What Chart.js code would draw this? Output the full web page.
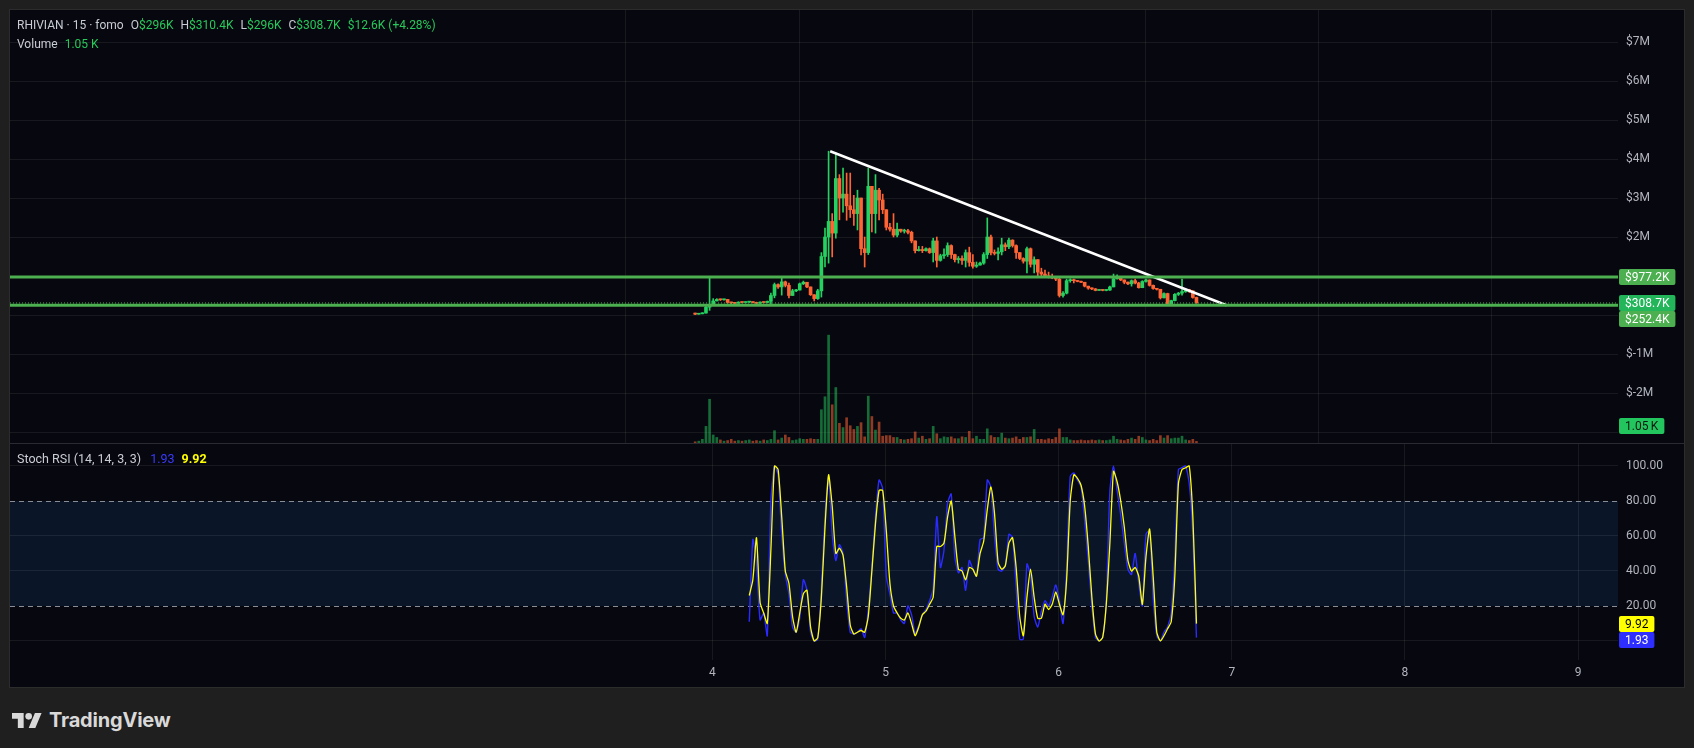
<!DOCTYPE html>
<html>
<head>
<meta charset="utf-8">
<script src="https://cdn.jsdelivr.net/npm/chart.js@4.4.0/dist/chart.umd.min.js"></script>
<style>
  html, body { margin:0; padding:0; width:1694px; height:748px; overflow:hidden; background:#1f1f1f;
               font-family: Roboto, "Noto Sans", sans-serif; }
  #panel { position:absolute; left:9px; top:9px; width:1676px; height:679px; box-sizing:border-box;
           background:#07070f; border:1px solid #2c2c2c; }
  canvas { position:absolute; left:10px; }
  #priceChart { top:10px; }
  #stochChart { top:444px; }
  #sep { position:absolute; left:10px; top:443px; width:1674px; height:1px; background:#2a2a33; }
  .legend { position:absolute; left:17px; font-size:12px; color:#c9ccd4; white-space:nowrap; line-height:16px; }
  .legend span { margin-left:7px; }
  .legend span.v { margin-left:0; }
  .g { color:#26c95a; }
  #brand { position:absolute; left:12px; top:708px; display:flex; align-items:center; color:#d9d9d9; }
  #brand span { font: 700 20px Inter, Roboto, sans-serif; margin-left:7px; letter-spacing:-0.2px; }
</style>
</head>
<body>
<div id="panel"></div>
<canvas id="priceChart" width="1674" height="433"></canvas>
<div id="sep"></div>
<canvas id="stochChart" width="1674" height="243"></canvas>

<div class="legend" style="top:17px">RHIVIAN · 15 · fomo<span>O<span class="g v">$296K</span></span><span>H<span class="g v">$310.4K</span></span><span>L<span class="g v">$296K</span></span><span>C<span class="g v">$308.7K</span></span><span class="g">$12.6K (+4.28%)</span></div>
<div class="legend" style="top:36px">Volume<span class="g">1.05 K</span></div>
<div class="legend" style="top:451px;font-size:12.5px">Stoch RSI (14, 14, 3, 3)<span style="color:#3a3aff;margin-left:9px">1.93</span><span style="color:#ffff00;font-weight:bold">9.92</span></div>

<div id="brand">
  <svg width="30" height="15" viewBox="0 4 36 18"><path fill="#d9d9d9" d="M14 22H7V11H0V4h14v18zM28 22h-8l7.5-18h8L28 22z"/><circle fill="#d9d9d9" cx="20" cy="8" r="4"/></svg>
  <span>TradingView</span>
</div>

<script>
// ---- data (prices in $M, 30-minute bars) ----
const dayTicks = [4, 5, 6, 7, 8, 9];
const priceTicks = [-3, -2, -1, 0, 1, 2, 3, 4, 5, 6, 7];
const stochTicks = [0, 20, 40, 60, 80, 100];
const barStart = 3.90;      // day of the first bar
const barsPerDay = 48;
const openFirst = 0.05;

const closes = [0.02,0.03,0.05,0.20,0.24,0.36,0.40,0.39,0.40,0.32,
  0.31,0.30,0.33,0.32,0.33,0.34,0.32,0.30,0.33,0.32,
  0.35,0.50,0.78,0.72,0.85,0.76,0.50,0.62,0.64,0.80,
  0.84,0.72,0.52,0.42,0.62,1.50,2.00,2.40,2.10,3.50,
  3.00,3.10,2.80,2.70,2.60,3.00,1.70,1.60,3.30,2.60,
  3.20,2.95,2.70,2.25,2.20,2.05,2.20,2.15,2.16,2.12,
  1.90,1.65,1.68,1.65,1.70,1.60,1.90,1.40,1.52,1.55,
  1.78,1.55,1.42,1.45,1.40,1.60,1.35,1.25,1.28,1.33,
  1.55,2.00,1.60,1.58,1.62,1.80,1.75,1.92,1.78,1.60,
  1.45,1.38,1.70,1.30,1.42,1.10,1.05,1.00,0.98,0.95,
  0.92,0.50,0.56,0.88,0.90,0.88,0.86,0.84,0.74,0.69,
  0.67,0.63,0.64,0.63,0.64,0.72,0.93,0.96,0.90,0.84,
  0.80,0.88,0.82,0.70,0.86,0.90,0.76,0.68,0.66,0.44,
  0.55,0.28,0.37,0.53,0.56,0.60,0.65,0.62,0.45,0.3087];

const highs = [0.05,0.04,0.06,0.22,0.95,0.42,0.42,0.41,0.41,0.40,
  0.33,0.32,0.34,0.34,0.34,0.35,0.34,0.33,0.34,0.34,
  0.36,0.56,0.82,0.80,0.95,0.87,0.82,0.66,0.66,0.82,
  0.87,0.84,0.72,0.52,0.66,1.60,2.23,4.20,2.60,4.15,
  3.60,3.77,3.64,3.64,3.07,3.20,3.00,2.00,3.77,3.30,
  3.60,3.25,3.10,2.70,2.35,2.60,2.36,2.20,2.20,2.20,
  2.15,1.90,1.76,1.76,1.72,1.72,1.97,2.00,1.56,1.70,
  1.85,1.80,1.56,1.50,1.52,1.67,1.74,1.55,1.36,1.36,
  1.60,2.49,2.05,1.67,1.72,1.97,1.85,1.97,1.93,1.80,
  1.60,1.47,1.74,1.72,1.49,1.42,1.20,1.15,1.10,1.05,
  0.98,0.95,0.60,0.92,0.93,0.92,0.88,0.87,0.84,0.74,
  0.70,0.68,0.65,0.65,0.65,0.74,1.05,1.03,0.98,0.90,
  0.85,0.90,0.92,0.84,0.88,0.92,0.90,0.77,0.68,0.66,
  0.57,0.56,0.38,0.55,0.58,0.92,0.67,0.66,0.62,0.46];

const lows = [0.01,0.02,0.03,0.05,0.12,0.24,0.36,0.37,0.38,0.30,
  0.29,0.29,0.30,0.31,0.31,0.32,0.31,0.29,0.30,0.31,
  0.31,0.28,0.44,0.68,0.51,0.72,0.44,0.50,0.60,0.64,
  0.78,0.70,0.50,0.36,0.40,0.46,1.23,1.33,1.49,1.97,
  2.44,2.64,2.43,2.50,2.30,2.18,1.54,1.23,1.55,2.13,
  2.10,2.44,2.60,2.18,2.15,2.00,2.00,2.12,2.10,2.08,
  1.85,1.59,1.64,1.60,1.64,1.58,1.36,1.23,1.38,1.45,
  1.50,1.45,1.36,1.33,1.30,1.23,1.25,1.20,1.22,1.28,
  1.30,1.45,1.54,1.54,1.41,1.54,1.65,1.70,1.74,1.45,
  1.42,1.33,1.08,1.23,1.08,0.97,0.97,0.97,0.95,0.93,
  0.88,0.46,0.46,0.54,0.84,0.82,0.85,0.83,0.72,0.66,
  0.65,0.62,0.63,0.62,0.62,0.63,0.72,0.92,0.88,0.80,
  0.78,0.74,0.80,0.69,0.70,0.84,0.74,0.66,0.64,0.41,
  0.44,0.26,0.26,0.36,0.50,0.51,0.58,0.58,0.43,0.30];

// volume in K
const volumes = [0.8,1.2,2.4,10.8,28.4,5.2,3.6,2,1.2,1.6,
  2.4,1.2,1.6,1.2,1.6,2,1.2,1.6,1.2,2,
  1.6,2.4,8,2,3.2,5.2,3.6,1.6,2,2.8,
  2.4,2.4,2.8,2.4,2.4,21.6,30,70,24.8,36,
  12.8,10,16.4,11.2,8.8,10.8,13.2,4,30.4,17.2,
  8.4,13.6,4.4,4.8,4.8,3.6,3.6,2.4,2,2.4,
  2.8,7.2,3.2,4.4,2.4,2.8,10.8,6,2.8,4,
  3.6,4,2.8,2.8,4,3.6,7.6,2.8,4.4,2.4,
  2.4,9.2,4.8,3.6,3.6,6.4,3.2,2.8,3.2,4,
  2.4,3.6,3.6,4,8.8,2.4,2.4,2,2.8,2.4,
  3.6,9.2,3.6,3.6,2,1.6,1.6,2,1.6,1.6,
  2,1.6,2,1.6,1.6,2,4.4,2.4,2,1.6,
  2.4,3.2,2.4,4.4,3.6,2,1.6,2.4,1.6,4.8,
  3.2,4.8,2.8,3.2,3.2,4.4,2,1.6,2.4,1.05];

// Stoch RSI, first value belongs to bar 15
const stochStart = 15;
const stochK = [11,58,45,12,16,3,80,100,95,61,
  38,27,8,5,13,35,29,5,0,1,
  30,71,94,61,46,55,50,23,5,4,
  5,7,2,18,42,71,92,87,37,27,
  16,16,12,10,20,15,4,9,15,18,
  23,30,71,42,52,79,84,48,39,42,
  29,46,41,37,58,59,92,88,60,41,
  40,43,61,59,31,1,1,44,37,14,
  8,17,23,20,25,32,23,10,41,94,
  96,92,88,69,46,20,2,0,2,23,
  86,100,86,72,56,41,38,50,33,20,
  61,63,25,3,0,5,8,16,48,98,
  99,100,90,61,1.93];
const stochD = [26,35,59,22,16,10,52,100,98,71,
  40,33,14,5,16,27,29,8,0,2,
  25,65,95,77,50,53,49,31,9,4,
  5,6,5,14,40,67,86,86,63,33,
  20,16,13,12,16,10,3,8,15,17,
  21,25,54,54,56,71,80,60,41,40,
  35,42,41,37,50,57,75,88,73,45,
  41,43,56,59,42,14,3,25,41,25,
  13,13,21,18,21,28,21,15,35,80,
  95,93,89,77,54,25,4,0,2,21,
  56,97,91,80,65,46,40,42,37,21,
  48,64,37,5,0,3,7,11,37,90,
  98,99,100,71,9.92];

// drawn levels and trend line
const levelTop = 0.9772, levelBottom = 0.2524, lastClose = 0.3087, lastVolume = 1.05;
const trendStart = [4.68, 4.2], trendEnd = [6.97, 0.25];

// ---- layout / style ----
const X_MIN = -0.058, X_MAX = 9.231;
const PRICE_MIN = -3.282, PRICE_MAX = 7.821;
const STOCH_MIN = -10.86, STOCH_MAX = 112.57;
const VOL_AXIS_MAX = 281;
const AXIS_W = 66;
const GRID = 'rgba(255,255,255,0.07)';
const UP = '#25d160', DOWN = '#ff6435';
const UP_VOL = 'rgba(37,209,96,0.5)', DOWN_VOL = 'rgba(255,100,53,0.55)';
const LEVEL = '#4caf50';
const hiddenPriceLabels = [1, 0, -3];

Chart.defaults.font.family = 'Roboto, "Noto Sans", sans-serif';
Chart.defaults.font.size = 12;
Chart.defaults.color = '#b2b5be';

const times = closes.map((c, i) => barStart + i / barsPerDay);
const opens = closes.map((c, i) => i === 0 ? openFirst : closes[i - 1]);
const isUp = closes.map((c, i) => c >= opens[i]);

const badgePlugin = {
  id: 'badges',
  afterDraw(chart, args, opts) {
    const ctx = chart.ctx, area = chart.chartArea, h = 16;
    let prevBottom = -Infinity;
    ctx.save();
    ctx.font = '12px Roboto, "Noto Sans", sans-serif';
    ctx.textBaseline = 'middle';
    (opts.items || []).forEach(b => {
      let y = chart.scales[b.axis].getPixelForValue(b.value);
      if (b.floor) y = Math.min(y, area.bottom - b.floor);
      if (y - h / 2 < prevBottom) y = prevBottom + h / 2;
      const w = ctx.measureText(b.text).width + 12;
      ctx.fillStyle = b.bg;
      ctx.beginPath();
      ctx.roundRect(area.right + 1, Math.round(y - h / 2), w, h, 2);
      ctx.fill();
      ctx.fillStyle = b.fg;
      ctx.fillText(b.text, area.right + 7, Math.round(y) + 0.5);
      prevBottom = y + h / 2;
    });
    ctx.restore();
  }
};

const bandPlugin = {
  id: 'band',
  beforeDraw(chart) {
    const ctx = chart.ctx, a = chart.chartArea, y = chart.scales.y;
    ctx.save();
    ctx.fillStyle = '#0a1628';
    ctx.fillRect(a.left, y.getPixelForValue(80), a.right - a.left, y.getPixelForValue(20) - y.getPixelForValue(80));
    ctx.restore();
  },
  beforeDatasetsDraw(chart) {
    const ctx = chart.ctx, a = chart.chartArea, y = chart.scales.y;
    ctx.save();
    ctx.strokeStyle = '#8a8d96';
    ctx.lineWidth = 1;
    ctx.setLineDash([5, 4]);
    [80, 20].forEach(v => {
      const py = Math.round(y.getPixelForValue(v)) + 0.5;
      ctx.beginPath(); ctx.moveTo(a.left, py); ctx.lineTo(a.right, py); ctx.stroke();
    });
    ctx.restore();
  }
};

function flatAxis(s) { s.paddingTop = 0; s.paddingBottom = 0; s.paddingLeft = 0; s.paddingRight = 0; }

new Chart(document.getElementById('priceChart'), {
  type: 'bar',
  data: {
    datasets: [
      { type: 'line', data: [{x: X_MIN, y: levelTop}, {x: X_MAX, y: levelTop}],
        borderColor: LEVEL, borderWidth: 3, pointRadius: 0, order: 0 },
      { type: 'line', data: [{x: X_MIN, y: levelBottom}, {x: X_MAX, y: levelBottom}],
        borderColor: LEVEL, borderWidth: 3, pointRadius: 0, order: 0 },
      { type: 'line', data: [{x: X_MIN, y: lastClose}, {x: X_MAX, y: lastClose}],
        borderColor: LEVEL, borderWidth: 1, borderDash: [1, 2], pointRadius: 0, order: 0 },
      { type: 'line', data: [{x: trendStart[0], y: trendStart[1]}, {x: trendEnd[0], y: trendEnd[1]}],
        borderColor: '#ffffff', borderWidth: 2.5, pointRadius: 0, order: 0 },
      { data: times.map((t, i) => ({x: t, y: [lows[i], highs[i]]})),
        backgroundColor: c => isUp[c.dataIndex] ? UP : DOWN,
        barThickness: 1, grouped: false, order: 2 },
      { data: times.map((t, i) => ({x: t, y: [Math.min(opens[i], closes[i]), Math.max(opens[i], closes[i])]})),
        backgroundColor: c => isUp[c.dataIndex] ? UP : DOWN,
        barThickness: 3, minBarLength: 1, grouped: false, order: 1 },
      { yAxisID: 'yVol', data: times.map((t, i) => ({x: t, y: volumes[i]})),
        backgroundColor: c => isUp[c.dataIndex] ? UP_VOL : DOWN_VOL,
        barThickness: 2, grouped: false, order: 3 }
    ]
  },
  options: {
    responsive: false, animation: false, devicePixelRatio: 1,
    layout: { padding: 0 },
    plugins: {
      legend: { display: false }, tooltip: { enabled: false },
      badges: { items: [
        { axis: 'y', value: levelTop, text: '$977.2K', bg: LEVEL, fg: '#ffffff' },
        { axis: 'y', value: lastClose, text: '$308.7K', bg: '#22b55a', fg: '#ffffff' },
        { axis: 'y', value: levelBottom, text: '$252.4K', bg: LEVEL, fg: '#ffffff' },
        { axis: 'yVol', value: lastVolume, text: '1.05\u2009K', bg: '#23c55e', fg: '#0d1a10', floor: 17 }
      ] }
    },
    scales: {
      x: { type: 'linear', min: X_MIN, max: X_MAX, offset: false,
           grid: { color: GRID, drawTicks: false }, border: { display: false },
           ticks: { display: false },
           afterBuildTicks: s => { s.ticks = dayTicks.map(v => ({value: v})); },
           afterFit: s => { s.height = 0; flatAxis(s); } },
      y: { position: 'right', min: PRICE_MIN, max: PRICE_MAX,
           grid: { color: GRID, drawTicks: false }, border: { display: false },
           ticks: { padding: 8, callback: v => hiddenPriceLabels.includes(v) ? '' : '$' + v + 'M' },
           afterBuildTicks: s => { s.ticks = priceTicks.map(v => ({value: v})); },
           afterFit: s => { s.width = AXIS_W; flatAxis(s); } },
      yVol: { display: false, min: 0, max: VOL_AXIS_MAX }
    }
  },
  plugins: [badgePlugin]
});

new Chart(document.getElementById('stochChart'), {
  type: 'line',
  data: {
    datasets: [
      { data: stochK.map((v, j) => ({x: times[j + stochStart], y: v})),
        borderColor: '#2b2bff', borderWidth: 1.4, pointRadius: 0, tension: 0.2, order: 1 },
      { data: stochD.map((v, j) => ({x: times[j + stochStart], y: v})),
        borderColor: '#ffff00', borderWidth: 1.3, pointRadius: 0, tension: 0.2, order: 0 }
    ]
  },
  options: {
    responsive: false, animation: false, devicePixelRatio: 1,
    layout: { padding: 0 },
    plugins: {
      legend: { display: false }, tooltip: { enabled: false },
      badges: { items: [
        { axis: 'y', value: stochD[stochD.length - 1], text: '9.92', bg: '#ffff00', fg: '#000000' },
        { axis: 'y', value: stochK[stochK.length - 1], text: '1.93', bg: '#2e2eff', fg: '#ffffff' }
      ] }
    },
    scales: {
      x: { type: 'linear', min: X_MIN, max: X_MAX, offset: false,
           grid: { color: GRID, drawTicks: false }, border: { display: false },
           ticks: { padding: 6, color: '#b2b5be', font: { size: 12 } },
           afterBuildTicks: s => { s.ticks = dayTicks.map(v => ({value: v})); },
           afterFit: s => { s.height = 27; flatAxis(s); } },
      y: { position: 'right', min: STOCH_MIN, max: STOCH_MAX,
           grid: { color: c => (c.tick && (c.tick.value === 20 || c.tick.value === 80)) ? 'rgba(0,0,0,0)' : GRID, drawTicks: false },
           border: { display: false },
           ticks: { padding: 8, callback: v => v === 0 ? '' : v.toFixed(2) },
           afterBuildTicks: s => { s.ticks = stochTicks.map(v => ({value: v})); },
           afterFit: s => { s.width = AXIS_W; flatAxis(s); } }
    }
  },
  plugins: [badgePlugin, bandPlugin]
});
</script>
</body>
</html>
